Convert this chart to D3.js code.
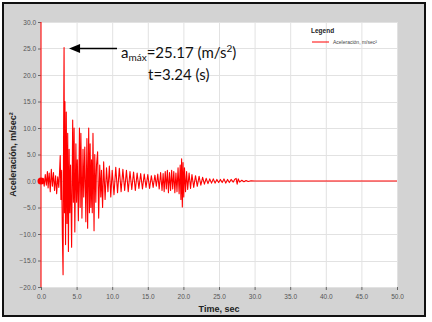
<!DOCTYPE html>
<html><head><meta charset="utf-8">
<script src="https://cdn.jsdelivr.net/npm/d3@7"></script>
<style>
html,body{margin:0;padding:0;background:#fff;}
svg{display:block;}
</style></head>
<body>
<svg id="chart" width="432" height="322"></svg>
<script>
// ---- data ----
const xTicks = [0,5,10,15,20,25,30,35,40,45,50];
const yTicks = [-20,-15,-10,-5,0,5,10,15,20,25,30];
const seriesName = "Aceleración, m/sec²";
const seriesTime = [0,0.3,0.45,0.6,0.75,0.9,1.0,1.15,1.3,1.45,1.6,1.75,1.9,2.05,2.2,2.35,2.5,2.6,2.7,2.8,2.9,3.0,3.1,3.17,3.24,3.3,3.36,3.45,3.55,3.65,3.75,3.85,3.95,4.05,4.15,4.3,4.45,4.55,4.65,4.75,4.9,5.0,5.1,5.25,5.4,5.5,5.6,5.75,5.9,6.0,6.15,6.3,6.45,6.55,6.7,6.8,6.9,7.0,7.1,7.2,7.3,7.45,7.55,7.7,7.8,7.95,8.1,8.25,8.4,8.5,8.65,8.8,9.0,9.2,9.4,9.6,9.8,10.0,10.25,10.5,10.75,11.0,11.25,11.5,11.75,12.0,12.25,12.5,12.75,13.0,13.25,13.5,13.75,14.0,14.25,14.5,14.75,15.0,15.25,15.5,15.75,16.0,16.2,16.4,16.6,16.8,17.0,17.15,17.3,17.45,17.6,17.75,17.9,18.05,18.2,18.35,18.5,18.65,18.8,18.95,19.1,19.25,19.4,19.55,19.65,19.75,19.85,19.95,20.05,20.15,20.3,20.45,20.6,20.8,21.0,21.2,21.45,21.7,21.95,22.2,22.45,22.7,22.95,23.2,23.45,23.7,23.95,24.2,24.45,24.7,24.95,25.2,25.45,25.7,25.95,26.2,26.45,26.7,27.0,27.2,27.4,27.55,27.7,27.9,28.2,28.5,28.8,29.1,29.5,30.0,50.0];
const seriesAccel = [0,0.5,-1.0,1.2,-0.8,1.8,-1.3,1.5,-2.0,2.2,-1.0,1.6,-1.8,1.0,-2.4,0.8,-1.2,1.5,4.8,-3.5,2.0,-10.0,-17.7,8.0,25.17,-6.0,15.0,-12.0,13.0,-8.0,9.0,-13.3,6.0,-6.0,3.0,-12.5,11.5,-4.0,10.0,-9.6,7.0,-4.0,4.0,-7.5,10.0,-5.0,9.0,-7.0,6.0,-3.0,6.4,-7.7,8.0,-8.9,10.0,-6.0,7.0,-5.0,4.0,-6.0,9.0,-9.4,5.0,-4.0,3.0,5.5,-7.0,3.0,-3.0,2.0,-5.0,3.6,-3.5,2.5,-2.0,2.8,-3.0,2.0,-2.6,2.6,-2.2,2.4,-2.0,2.2,-1.8,2.0,-2.0,1.8,-1.6,1.7,-1.8,1.5,-1.4,1.4,-1.5,1.3,-1.2,1.2,-1.4,1.0,-1.2,1.1,-1.0,1.3,-1.5,1.6,-1.8,1.4,-2.0,1.8,-1.5,2.0,-2.2,1.6,-1.8,2.0,-1.5,1.8,-2.2,1.5,-2.0,2.5,-2.4,3.0,-3.5,4.2,-4.9,3.5,-3.0,2.5,-2.0,1.8,-1.6,1.5,-1.4,1.2,-1.2,1.0,-1.0,0.9,-0.8,0.7,-0.6,0.5,-0.5,0.4,-0.4,0.4,-0.4,0.3,-0.3,0.3,-0.3,0.4,-0.4,0.3,-0.3,0.3,-0.2,0.3,0.5,-0.6,0.4,-0.2,0.15,-0.15,0.1,-0.1,0.05,0,0];
const peakValue = 25.17, peakTime = 3.24;

// ---- layout ----
const W = 432, H = 322;
const svg = d3.select("#chart");
const x = d3.scaleLinear().domain([0,50]).range([41,397]);
const y = d3.scaleLinear().domain([-20,30]).range([287,22]);

// outer frame
svg.append("rect").attr("x",3).attr("y",3).attr("width",422).attr("height",313)
  .attr("fill","#d3d3d3").attr("stroke","#111").attr("stroke-width",2);
// plot area
svg.append("rect").attr("x",x(0)).attr("y",y(30)).attr("width",x(50)-x(0)).attr("height",y(-20)-y(30))
  .attr("fill","#fff");

// grid
const grid = svg.append("g");
grid.selectAll("line.v").data(xTicks.slice(1)).join("line")
  .attr("x1",d=>x(d)+0.5).attr("x2",d=>x(d)+0.5).attr("y1",y(30)).attr("y2",y(-20))
  .attr("stroke","#e2e2e2").attr("stroke-width",1);
grid.selectAll("line.h").data(yTicks).join("line")
  .attr("x1",x(0)).attr("x2",x(50)).attr("y1",d=>Math.round(y(d))+0.5).attr("y2",d=>Math.round(y(d))+0.5)
  .attr("stroke","#e2e2e2").attr("stroke-width",1);

// axes
const fmt = d3.format(".1f");
const ax = svg.append("g").attr("transform",`translate(0,${y(-20)})`)
  .call(d3.axisBottom(x).tickValues(xTicks).tickFormat(fmt).tickSize(3).tickPadding(4));
const ay = svg.append("g").attr("transform",`translate(${x(0)},0)`)
  .call(d3.axisLeft(y).tickValues(yTicks).tickFormat(fmt).tickSize(3).tickPadding(2));
[ax,ay].forEach(g=>{
  g.select(".domain").remove();
  g.selectAll(".tick line").attr("stroke","#666");
  g.selectAll(".tick text").attr("fill","#555").style("font-family","Arial, 'Liberation Sans', sans-serif").style("font-size","6.5px");
});

// series
const pts = seriesTime.map((t,i)=>[t,seriesAccel[i]]);
svg.append("line").attr("x1",x(0)).attr("x2",x(0)).attr("y1",y(30)).attr("y2",y(-20))
  .attr("stroke","#ff1a1a").attr("stroke-width",1.2);
svg.append("path").datum(pts)
  .attr("d",d3.line().x(d=>x(d[0])).y(d=>y(d[1])))
  .attr("fill","none").attr("stroke","#ff0000").attr("stroke-width",1.1).attr("stroke-linejoin","round");
svg.append("circle").attr("cx",x(0)).attr("cy",y(0)).attr("r",3.5).attr("fill","#ff0000");

// axis titles
svg.append("text").attr("x",x(25)).attr("y",312).attr("text-anchor","middle")
  .style("font-family","Arial, 'Liberation Sans', sans-serif").style("font-size","9px").style("font-weight","bold")
  .attr("fill","#222").text("Time,  sec");
svg.append("text").attr("transform",`translate(16,${(y(30)+y(-20))/2}) rotate(-90)`).attr("text-anchor","middle")
  .style("font-family","Arial, 'Liberation Sans', sans-serif").style("font-size","9px").style("font-weight","bold")
  .attr("fill","#222").text("Aceleración,  m/sec²");

// legend
svg.append("text").attr("x",311).attr("y",33)
  .style("font-family","Arial, 'Liberation Sans', sans-serif").style("font-size","6.5px").style("font-weight","bold")
  .attr("fill","#222").text("Legend");
svg.append("line").attr("x1",312).attr("x2",329).attr("y1",42).attr("y2",42).attr("stroke","#ff0000").attr("stroke-width",1);
svg.append("text").attr("x",333).attr("y",44)
  .style("font-family","Arial, 'Liberation Sans', sans-serif").style("font-size","5px")
  .attr("fill","#444").text(seriesName);

// annotation arrow
const ay0 = y(peakValue)+1, tipX = x(peakTime)+5;
svg.append("line").attr("x1",tipX+8).attr("x2",117).attr("y1",ay0).attr("y2",ay0).attr("stroke","#000").attr("stroke-width",1.5);
svg.append("path").attr("d",`M${tipX},${ay0} L${tipX+11},${ay0-4.5} L${tipX+11},${ay0+4.5} Z`).attr("fill","#000");

const ann = svg.append("text").attr("x",121).attr("y",58)
  .style("font-family","Lato, 'Open Sans', sans-serif").style("font-size","15px").attr("fill","#111");
ann.append("tspan").text("a");
ann.append("tspan").attr("dy",3).style("font-size","10px").text("máx");
ann.append("tspan").attr("dy",-3).text(`=${peakValue} (m/s`);
ann.append("tspan").attr("dy",-6).style("font-size","10px").text("2");
ann.append("tspan").attr("dy",6).text(")");
svg.append("text").attr("x",148).attr("y",80)
  .style("font-family","Lato, 'Open Sans', sans-serif").style("font-size","15px").attr("fill","#111")
  .text(`t=${peakTime} (s)`);
</script>
</body></html>
